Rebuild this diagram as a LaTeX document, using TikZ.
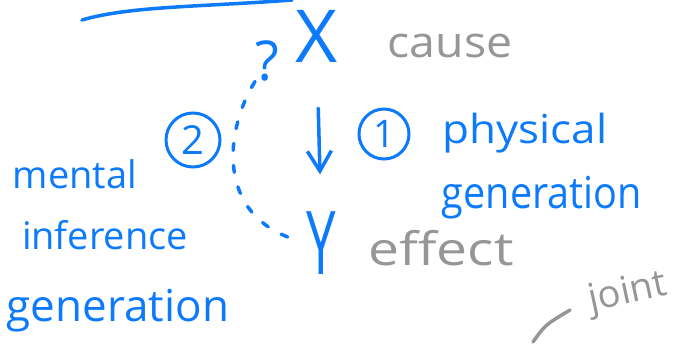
\documentclass[tikz,border=0pt]{standalone}
\usepackage{fontspec}
\setmainfont{Open Sans}
\usetikzlibrary{arrows.meta}
\definecolor{ink}{RGB}{12,122,250}
\definecolor{pencil}{RGB}{150,150,150}

\tikzset{
  pen/.style={line width=3.5pt,line cap=round,line join=round},
  blueword/.style={inner sep=0pt,text=ink},
  grayword/.style={inner sep=0pt,text=pencil},
  fs/.style={font=\fontsize{#1}{#1}\selectfont},
  ringed/.style={circle,draw=ink,text=ink,line width=3pt,inner sep=0pt,minimum size=#1},
  barb/.style={-{Straight Barb[length=20pt,width=24pt,line width=3.5pt]}},
}

\begin{document}
\begin{tikzpicture}[x=1pt,y=-1pt]
\useasboundingbox (0,0) rectangle (673,351);

% stroke along the top
\draw[pen,ink] (82,20) .. controls (130,6) and (200,7) .. (292,0);

% cause and effect
\node[blueword,fs=73] (X) at (317,36) {X};
\node[blueword,fs=88,xscale=0.6] (Y) at (321,243) {Y};
\node[blueword,fs=55] (q) at (267,61) {?};

\draw[pen,ink,barb,shorten <=46pt,shorten >=37pt] (X.south) -- (Y.north);
\draw[pen,ink,dash pattern=on 7pt off 15pt,shorten >=10pt]
  (q.south west) .. controls (225,130) and (215,215) .. (Y.west);

% labels
\node[grayword,fs=43,xscale=1.08] (cause) at (450,46) {cause};
\node[grayword,fs=46,xscale=1.2] (effect) at (441,248) {effect};

\node[ringed=50pt,fs=38] (one) at (384,134) {1};
\node[ringed=54pt,fs=40] (two) at (193,140) {2};

\node[blueword,fs=40,xscale=1.1] (phys) at (525,133) {physical};
\node[blueword,fs=44,xscale=0.9] (gen1) at (542,198) {generation};

\node[blueword,fs=38] (mental) at (75,174) {mental};
\node[blueword,fs=38] (infer) at (105,235) {inference};
\node[blueword,fs=44] (gen2) at (118,311) {generation};

% joint
\node[grayword,fs=38,rotate=12] (joint) at (628,294) {joint};
\draw[pen,pencil] (533,342) .. controls (545,325) .. (570,310);
\end{tikzpicture}
\end{document}
